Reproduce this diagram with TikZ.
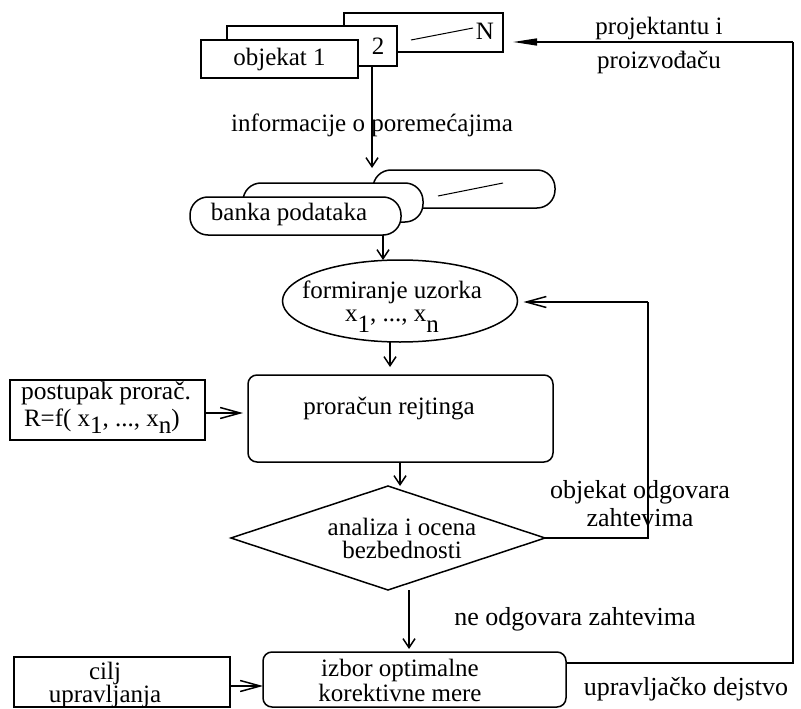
\documentclass[tikz,border=0pt]{standalone}
\usepackage{fontspec}
\setmainfont{Liberation Serif}
\usetikzlibrary{arrows.meta,shapes.geometric}
\newcommand\sbs[1]{\raisebox{-11pt}{#1}}
\newcommand\sbt[1]{\raisebox{-7pt}{#1}}
\begin{document}
\begin{tikzpicture}[x=1pt,y=-1pt,
  every node/.style={font=\fontsize{25}{25}\selectfont, inner sep=0pt, outer sep=0pt},
  ln/.style={line width=1.5pt},
  varr/.style={ln,-{Straight Barb[length=9pt,width=12pt,line width=1.5pt]}},
  harr/.style={ln,-{Straight Barb[length=20pt,width=11pt,line width=1.5pt]}},
  farr/.style={ln,-{Triangle[length=24pt,width=7pt]}},
  sq/.style={draw,ln,fill=white,rectangle},
  pill/.style={draw,ln,fill=white,rectangle,rounded corners=18pt},
  rbox/.style={draw,ln,fill=white,rectangle,rounded corners=9pt},
  lbl/.style={align=center}]
\useasboundingbox (0,0) rectangle (801,709);

% top boxes objekat 1..N
\node[sq,minimum width=159pt,minimum height=39pt] (boxN) at (423.5,32.5) {};
\node (tN) at (485,31) {N};
\draw[ln,line width=1pt] (411,40) -- (473,28);
\node[sq,minimum width=170pt,minimum height=40pt] (box2) at (312,46) {};
\node (t2) at (378,46) {2};
\node[sq,minimum width=157pt,minimum height=38pt] (box1) at (279.5,59) {objekat 1};

% data bank
\node[pill,minimum width=182pt,minimum height=38pt] (bankB) at (464,189) {};
\draw[ln,line width=1pt] (438,196) -- (503,183);
\node[pill,minimum width=180pt,minimum height=39pt] (bankM) at (333,202.5) {};
\node[pill,minimum width=211pt,minimum height=38pt] (bankF) at (295.5,216) {};
\node (tbank) at (289,214) {banka podataka};

% sample forming
\node[ellipse,draw,ln,minimum width=235pt,minimum height=82pt] (ell) at (400,301) {};
\node (tell1) at (392,292) {formiranje uzorka};
\node (tell2) at (392,321) {x\sbs{1}, ..., x\sbs{n}};

% rating computation
\node[rbox,minimum width=305pt,minimum height=87pt] (prc) at (400.5,418.5) {};
\node (tprc) at (389,408) {proračun rejtinga};

% procedure box
\node[sq,minimum width=195pt,minimum height=60pt] (post) at (107.5,410) {};
\node[anchor=west,font=\fontsize{25.5}{25.5}\selectfont] (tpost1) at (21,393) {postupak prorač.};
\node[anchor=west,font=\fontsize{25}{25}\selectfont] (tpost2) at (24,421) {R=f( x\sbt{1}, ..., x\sbt{n})};

% decision
\node[diamond,draw,ln,shape aspect=3,minimum width=314pt,minimum height=104pt] (dia) at (388,538) {};
\node[lbl,font=\fontsize{25}{23}\selectfont] (tdia) at (402,538) {analiza i ocena\\bezbednosti};

% corrective measure
\node[rbox,minimum width=303pt,minimum height=55pt] (izb) at (414.5,679.5) {};
\node[lbl,font=\fontsize{25}{25}\selectfont] (tizb) at (400,680) {izbor optimalne\\korektivne mere};

% goal
\node[sq,minimum width=216pt,minimum height=50pt] (cilj) at (122,682) {};
\node[lbl,font=\fontsize{25}{22}\selectfont] (tcilj) at (105,685) {cilj\\upravljanja};

% labels
\node (linfo) at (372,125) {informacije o poremećajima};
\node[lbl,font=\fontsize{25}{34}\selectfont] (lproj) at (659,45) {projektantu i\\proizvođaču};
\node[lbl,font=\fontsize{26}{28}\selectfont] (lok) at (640,504) {objekat odgovara\\zahtevima};
\node[font=\fontsize{26}{26}\selectfont] (lne) at (575,619) {ne odgovara zahtevima};
\node[font=\fontsize{26}{26}\selectfont] (lupr) at (686,689) {upravljačko dejstvo};

% coordinates for connectors
\coordinate (xi) at (372,0);
\coordinate (xb) at (383,0);
\coordinate (xe) at (390,0);
\coordinate (xp) at (400,0);
\coordinate (xd) at (409,0);
\coordinate (fbx) at (648,538);
\coordinate (fby) at (648,302);
\coordinate (r1) at (793,663);
\coordinate (r2) at (793,42);
\coordinate (ypo) at (0,413);
\coordinate (yci) at (0,686);

% connectors
\draw[varr,shorten >=2pt] (box2.south -| xi) -- (bankB.north -| xi);
\draw[varr] (bankF.south -| xb) -- (ell.north -| xb);
\draw[varr,shorten >=8pt] (ell.south -| xe) -- (prc.north -| xe);
\draw[varr] (prc.south -| xp) -- (dia.north -| xp);
\draw[varr,shorten >=3pt] (dia.south -| xd) -- (izb.north -| xd);
\draw[harr,shorten >=5pt] (post.east |- ypo) -- (prc.west |- ypo);
\draw[harr] (cilj.east |- yci) -- (izb.west |- yci);
\draw[ln] (dia.east) -- (fbx) -- (fby);
\draw[harr,shorten >=6pt] (fby) -- (ell.east |- fby);
\draw[ln] (izb.east |- r1) -- (r1) -- (r2);
\draw[farr,shorten >=10pt] (r2) -- (boxN.east |- r2);
\end{tikzpicture}
\end{document}
